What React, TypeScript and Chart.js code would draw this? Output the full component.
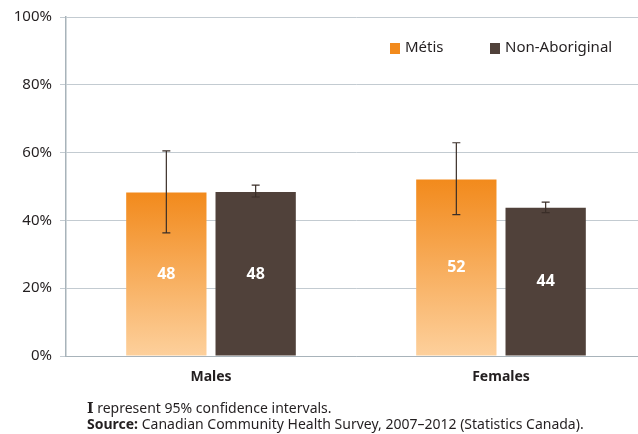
import React, { useEffect, useRef } from "react";
import { Chart, registerables } from "chart.js";

Chart.register(...registerables);

const categories = ["Males", "Females"];
const seriesNames = ["Métis", "Non-Aboriginal"];
const metisValues = [48.2, 52.1];
const nonAbValues = [48.4, 43.7];
const metisLow = [36.3, 41.7];
const metisHigh = [60.5, 62.9];
const nonAbLow = [46.9, 42.3];
const nonAbHigh = [50.4, 45.4];
const metisLabels = ["48", "52"];
const nonAbLabels = ["48", "44"];
const yTicks = [0, 20, 40, 60, 80, 100];

const FONT = "'Noto Sans', Lato, sans-serif";
const ORANGE_TOP = "#F28A1C";
const ORANGE_BOTTOM = "#FDD09C";
const BROWN = "#50413A";
const GRID = "#C3CBD1";
const AXIS = "#A8B3BA";
const TEXT = "#231F20";

export default function App() {
  const ref = useRef<HTMLCanvasElement | null>(null);

  useEffect(() => {
    const canvas = ref.current;
    if (!canvas) return;

    const overlay = {
      id: "overlay",
      afterDatasetsDraw(chart: any) {
        const ctx = chart.ctx;
        const y = chart.scales.y;
        const lows = [metisLow, nonAbLow];
        const highs = [metisHigh, nonAbHigh];
        const labels = [metisLabels, nonAbLabels];
        const vals = [metisValues, nonAbValues];
        ctx.save();
        for (let d = 0; d < 2; d++) {
          const meta = chart.getDatasetMeta(d);
          meta.data.forEach((bar: any, i: number) => {
            const top = y.getPixelForValue(vals[d][i]);
            const bottom = y.getPixelForValue(0);
            ctx.fillStyle = "#FFFFFF";
            ctx.font = `bold 16px ${FONT}`;
            ctx.textAlign = "center";
            ctx.textBaseline = "middle";
            ctx.fillText(labels[d][i], bar.x, (top + bottom) / 2);
            const yl = y.getPixelForValue(lows[d][i]);
            const yh = y.getPixelForValue(highs[d][i]);
            ctx.strokeStyle = "#3A2E28";
            ctx.lineWidth = 1.2;
            ctx.beginPath();
            ctx.moveTo(bar.x, yl);
            ctx.lineTo(bar.x, yh);
            ctx.moveTo(bar.x - 4, yl);
            ctx.lineTo(bar.x + 4, yl);
            ctx.moveTo(bar.x - 4, yh);
            ctx.lineTo(bar.x + 4, yh);
            ctx.stroke();
          });
        }
        const legendItems = [
          { name: seriesNames[0], color: ORANGE_TOP, x: 390 },
          { name: seriesNames[1], color: BROWN, x: 490 },
        ];
        ctx.font = `15px ${FONT}`;
        ctx.textAlign = "left";
        ctx.textBaseline = "middle";
        legendItems.forEach((it) => {
          ctx.fillStyle = it.color;
          ctx.fillRect(it.x, 43, 10, 11);
          ctx.fillStyle = TEXT;
          ctx.fillText(it.name, it.x + 15, 48);
        });
        ctx.restore();
      },
    };

    const chart = new Chart(canvas, {
      type: "bar",
      data: {
        labels: categories,
        datasets: [
          {
            label: seriesNames[0],
            data: metisValues,
            backgroundColor: (c: any) => {
              const ch = c.chart;
              const ys = ch.scales && ch.scales.y;
              if (!ys || c.dataIndex === undefined) return ORANGE_TOP;
              const top = ys.getPixelForValue(metisValues[c.dataIndex]);
              const bottom = ys.getPixelForValue(0);
              if (!isFinite(top) || !isFinite(bottom) || top === bottom) return ORANGE_TOP;
              const g = ch.ctx.createLinearGradient(0, top, 0, bottom);
              g.addColorStop(0, ORANGE_TOP);
              g.addColorStop(1, ORANGE_BOTTOM);
              return g;
            },
            categoryPercentage: 0.616,
            barPercentage: 0.899,
          },
          {
            label: seriesNames[1],
            data: nonAbValues,
            backgroundColor: BROWN,
            categoryPercentage: 0.616,
            barPercentage: 0.899,
          },
        ],
      },
      plugins: [overlay],
      options: {
        animation: false,
        responsive: false,
        maintainAspectRatio: false,
        layout: { padding: { top: 16, bottom: 48, left: 0, right: 0 } },
        plugins: {
          legend: { display: false },
          tooltip: { enabled: false },
        },
        scales: {
          x: {
            grid: { display: false, drawTicks: false },
            border: { display: true, color: AXIS, width: 1 },
            ticks: {
              color: TEXT,
              font: { family: FONT, size: 14, weight: "bold" },
              padding: 13,
            },
            afterFit: (s: any) => {
              s.height = 30;
            },
          },
          y: {
            min: 0,
            max: 100,
            afterBuildTicks: (s: any) => {
              s.ticks = yTicks.map((v) => ({ value: v }));
            },
            grid: { color: GRID, lineWidth: 1, tickLength: 6, drawTicks: true },
            border: { display: true, color: AXIS, width: 1.5 },
            ticks: {
              color: TEXT,
              font: { family: FONT, size: 15 },
              padding: 8,
              callback: (v: any) => `${v}%`,
            },
            afterFit: (s: any) => {
              s.width = 66;
            },
          },
        },
      },
    } as any);
    return () => chart.destroy();
  }, []);

  return (
    <div
      style={{
        position: "fixed",
        left: 0,
        top: 0,
        width: 638,
        height: 434,
        overflow: "hidden",
        background: "#FFFFFF",
      }}
    >
      <canvas ref={ref} width={646} height={434} style={{ display: "block", width: 646, height: 434 }} />
      <div
        style={{
          position: "absolute",
          left: 87,
          top: 400,
          fontFamily: FONT,
          fontSize: 14,
          lineHeight: "16px",
          color: TEXT,
          whiteSpace: "nowrap",
        }}
      >
        <div>
          <span style={{ fontFamily: "'DejaVu Serif', serif", fontWeight: "bold" }}>I</span> represent 95% confidence intervals.
        </div>
        <div>
          <b>Source:</b> Canadian Community Health Survey, 2007–2012 (Statistics Canada).
        </div>
      </div>
    </div>
  );
}
